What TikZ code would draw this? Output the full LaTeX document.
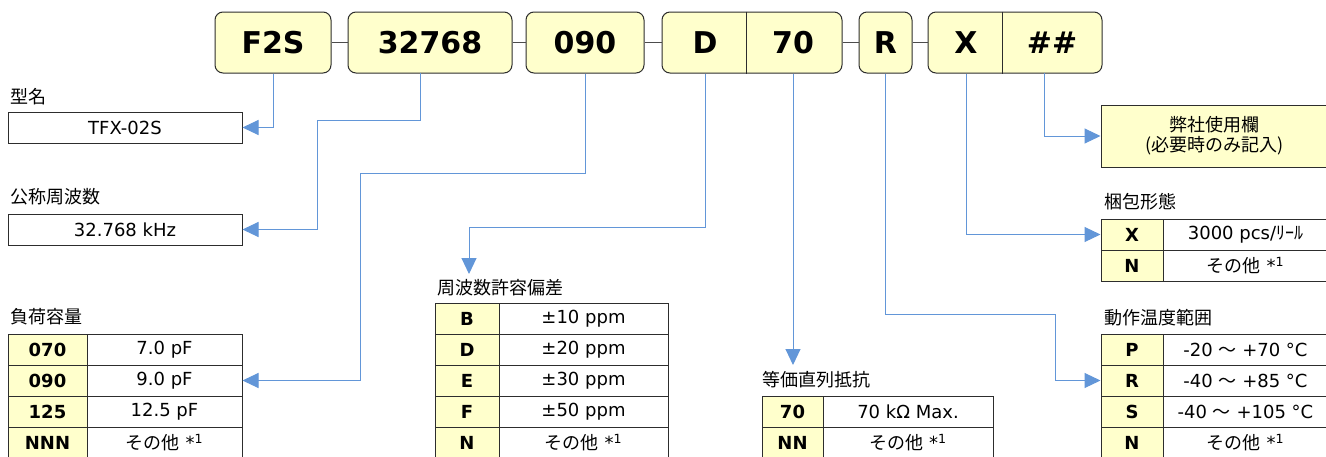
\documentclass[tikz,border=0pt]{standalone}
\usepackage{fontspec}
\setmainfont{DejaVu Sans}
\newfontfamily\jp{Noto Sans CJK JP}
\usetikzlibrary{arrows.meta}
\definecolor{boxfill}{RGB}{255,255,204}
\definecolor{linkblue}{RGB}{98,150,216}
\definecolor{edge}{RGB}{45,45,45}
\begin{document}
\begin{tikzpicture}[x=1pt,y=-1pt,
  topbox/.style={draw=edge, fill=boxfill, rounded corners=8pt, line width=1pt, minimum height=61pt, inner sep=0pt, font=\fontsize{30}{30}\selectfont\bfseries},
  toptext/.style={inner sep=0pt, font=\fontsize{30}{30}\selectfont\bfseries},
  joiner/.style={draw=edge!85, line width=1.2pt},
  plainbox/.style={draw=edge, line width=1pt, minimum height=31pt, inner sep=0pt, font=\fontsize{18}{18}\selectfont},
  codecell/.style={draw=edge, fill=boxfill, line width=1pt, minimum height=31pt, inner sep=0pt, font=\fontsize{18}{18}\selectfont\bfseries},
  valcell/.style={draw=edge, line width=1pt, minimum height=31pt, inner sep=0pt, font=\fontsize{18}{18}\selectfont},
  title/.style={anchor=west, inner sep=0pt, font=\fontsize{18}{18}\selectfont\jp},
  conn/.style={draw=linkblue, line width=1pt, -{Triangle[length=16pt,width=15pt]}},
]
\path[fill=white, use as bounding box] (0,0) rectangle (1326,456);

% ---- top code boxes
\node[topbox, minimum width=116pt] (f2s) at (273,42.5) {F2S};
\node[topbox, minimum width=164pt] (n32768) at (430,42.5) {32768};
\node[topbox, minimum width=118pt] (n090) at (585,42.5) {090};
\node[topbox, minimum width=180pt] (dbox) at (752,42.5) {};
\node[toptext] (dtext) at (705,42.5) {D};
\node[toptext] (seventext) at (793,42.5) {70};
\draw[edge, line width=1pt] (dbox.north -| 746,0) -- (dbox.south -| 746,0);
\node[topbox, minimum width=53pt] (rbox) at (885.5,42.5) {R};
\node[topbox, minimum width=174pt] (xbox) at (1015,42.5) {};
\node[toptext] (xtext) at (966,42.5) {X};
\node[toptext] (hashtext) at (1052,42.5) {\#\#};
\draw[edge, line width=1pt] (xbox.north -| 1002,0) -- (xbox.south -| 1002,0);

\draw[joiner] (f2s) -- (n32768);
\draw[joiner] (n32768) -- (n090);
\draw[joiner] (n090) -- (dbox);
\draw[joiner] (dbox) -- (rbox);
\draw[joiner] (rbox) -- (xbox);

% ---- left column
\node[title] (tmodel) at (10,97) {型名};
\node[plainbox, minimum width=234pt] (tfx) at (125,127.5) {TFX-02S};
\node[title] (tfreq) at (10,197) {公称周波数};
\node[plainbox, minimum width=234pt] (khz) at (125,229.5) {32.768 kHz};

\node[title] (tload) at (10,317) {負荷容量};
\node[codecell, minimum width=79pt] (c070) at (47.5,349.5) {070};
\node[valcell, minimum width=155pt] (c070v) at (164.5,349.5) {7.0 pF};
\node[codecell, minimum width=79pt] (c090) at (47.5,380.5) {090};
\node[valcell, minimum width=155pt] (c090v) at (164.5,380.5) {9.0 pF};
\node[codecell, minimum width=79pt] (c125) at (47.5,411.5) {125};
\node[valcell, minimum width=155pt] (c125v) at (164.5,411.5) {12.5 pF};
\node[codecell, minimum width=79pt] (cnnn) at (47.5,442.5) {NNN};
\node[valcell, minimum width=155pt] (cnnnv) at (164.5,442.5) {{\jp その他} *\textsuperscript{1}};

% ---- frequency tolerance
\node[title] (ttol) at (437,288) {周波数許容偏差};
\node[codecell, minimum width=64pt] (tb) at (467,318.5) {B};
\node[valcell, minimum width=169pt] (tbv) at (583.5,318.5) {±10 ppm};
\node[codecell, minimum width=64pt] (td) at (467,349.5) {D};
\node[valcell, minimum width=169pt] (tdv) at (583.5,349.5) {±20 ppm};
\node[codecell, minimum width=64pt] (te) at (467,380.5) {E};
\node[valcell, minimum width=169pt] (tev) at (583.5,380.5) {±30 ppm};
\node[codecell, minimum width=64pt] (tf) at (467,411.5) {F};
\node[valcell, minimum width=169pt] (tfv) at (583.5,411.5) {±50 ppm};
\node[codecell, minimum width=64pt] (tn) at (467,442.5) {N};
\node[valcell, minimum width=169pt] (tnv) at (583.5,442.5) {{\jp その他} *\textsuperscript{1}};

% ---- ESR
\node[title] (tesr) at (762,380) {等価直列抵抗};
\node[codecell, minimum width=61pt] (e70) at (792.5,411.5) {70};
\node[valcell, minimum width=170pt] (e70v) at (908,411.5) {70 kΩ Max.};
\node[codecell, minimum width=61pt] (enn) at (792.5,442.5) {NN};
\node[valcell, minimum width=170pt] (ennv) at (908,442.5) {{\jp その他} *\textsuperscript{1}};

% ---- right column
\node[draw=edge, fill=boxfill, line width=1pt, minimum width=227pt, minimum height=62pt, inner sep=0pt, align=center, font=\fontsize{18}{20}\selectfont\jp] (usebox) at (1214.5,136) {弊社使用欄\\(必要時のみ記入)};

\node[title] (tpack) at (1104,202) {梱包形態};
\node[codecell, minimum width=62pt] (px) at (1132,234.5) {X};
\node[valcell, minimum width=165pt] (pxv) at (1245.5,234.5) {3000 pcs/{\jp ﾘｰﾙ}};
\node[codecell, minimum width=62pt] (pn) at (1132,265.5) {N};
\node[valcell, minimum width=165pt] (pnv) at (1245.5,265.5) {{\jp その他} *\textsuperscript{1}};

\node[title] (ttemp) at (1104,318) {動作温度範囲};
\node[codecell, minimum width=62pt] (op) at (1132,349.5) {P};
\node[valcell, minimum width=165pt] (opv) at (1245.5,349.5) {-20 {\jp ～} +70 °C};
\node[codecell, minimum width=62pt] (or) at (1132,380.5) {R};
\node[valcell, minimum width=165pt] (orv) at (1245.5,380.5) {-40 {\jp ～} +85 °C};
\node[codecell, minimum width=62pt] (os) at (1132,411.5) {S};
\node[valcell, minimum width=165pt] (osv) at (1245.5,411.5) {-40 {\jp ～} +105 °C};
\node[codecell, minimum width=62pt] (on) at (1132,442.5) {N};
\node[valcell, minimum width=165pt] (onv) at (1245.5,442.5) {{\jp その他} *\textsuperscript{1}};

% ---- connectors
\coordinate (drop32) at (420,73);
\coordinate (tolin) at (469,274);
\coordinate (esrin) at (793,365);
\coordinate (hashdrop) at (1044,73);
\draw[conn] (f2s.south) |- (tfx.east);
\draw[conn] (drop32) |- (317,120) |- (khz.east);
\draw[conn] (n090.south) |- (360,173) |- (c090v.east);
\draw[conn] (dbox.south -| dtext) -- ++(0,154) -| (tolin);
\draw[conn] (dbox.south -| seventext) -- (esrin);
\draw[conn] (rbox.south) |- (1055,314) |- (or.west);
\draw[conn] (xbox.south -| xtext) |- (px.west);
\draw[conn] (hashdrop) |- (usebox.west);
\end{tikzpicture}
\end{document}
